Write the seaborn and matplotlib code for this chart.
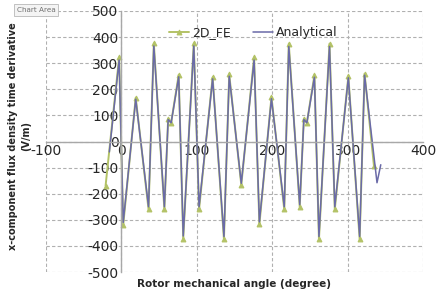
import matplotlib
matplotlib.use("Agg")
import matplotlib.pyplot as plt
import seaborn as sns
import pandas as pd

# ---- data ----
fe_x = [-21, -3, 2.4, 19, 36, 43, 57, 62, 66, 76, 82, 96, 103, 121, 136, 143,
        159, 176, 183, 199, 216, 222, 236.5, 242, 246, 256, 262, 276, 283, 301,
        316, 322.5, 335]
fe_y = [-170, 322, -320, 168, -260, 376, -260, 88, 72, 256, -372, 376, -260,
        246, -375, 257, -166, 322, -318, 170, -260, 375, -250, 88, 72, 254,
        -375, 375, -260, 250, -375, 260, -95]

an_x = [-16, -3, 2.4, 19, 36, 43, 57, 62, 66, 76, 82, 96, 103, 121, 136, 143,
        159, 176, 183, 199, 216, 222, 236.5, 242, 246, 256, 262, 276, 283, 301,
        316, 322.5, 339, 344]
an_y = [-40, 312, -310, 162, -250, 366, -250, 84, 72, 248, -362, 366, -250,
        240, -364, 250, -160, 312, -308, 164, -250, 364, -242, 84, 72, 246,
        -364, 364, -250, 244, -364, 254, -158, -89]

x_ticks = [-100, 0, 100, 200, 300, 400]
y_ticks = [-500, -400, -300, -200, -100, 0, 100, 200, 300, 400, 500]

series_names = ["2D_FE", "Analytical"]
fe_color = "#b3c266"
an_color = "#6a6aa8"

sns.set_style("white")
plt.rcParams["font.family"] = ["DejaVu Sans"]

fig = plt.figure(figsize=(4.42, 2.90), dpi=100)
ax = fig.add_axes([46 / 442, 1 - 272 / 290, 377 / 442, 261 / 290])

df_fe = pd.DataFrame({"x": fe_x, "y": fe_y})
df_an = pd.DataFrame({"x": an_x, "y": an_y})

sns.lineplot(data=df_fe, x="x", y="y", ax=ax, color=fe_color, lw=1.4,
             marker="^", markersize=3.5, markeredgecolor=fe_color,
             estimator=None, sort=False, label=series_names[0])
sns.lineplot(data=df_an, x="x", y="y", ax=ax, color=an_color, lw=1.1,
             estimator=None, sort=False, label=series_names[1])

ax.set_xlim(-100, 400)
ax.set_ylim(-500, 500)
ax.set_xticks(x_ticks)
ax.set_yticks(y_ticks)
ax.set_xticklabels([str(v) for v in x_ticks], fontsize=8.5)
ax.set_yticklabels([str(v) for v in y_ticks], fontsize=8.5)
ax.tick_params(length=0, pad=2)

ax.grid(True, linestyle=(0, (3, 2)), color="#b0b0b0", lw=0.8)
for s in ["top", "right"]:
    ax.spines[s].set_visible(False)
ax.spines["left"].set_position(("data", 0))
ax.spines["bottom"].set_position(("data", 0))
for s in ["left", "bottom"]:
    ax.spines[s].set_color("#a8a8a8")
    ax.spines[s].set_linewidth(1.0)

ax.set_xlabel("Rotor mechanical angle (degree)", fontsize=7.5, fontweight="bold")
ax.xaxis.set_label_coords(0.5, -0.025)
ax.set_ylabel("x-component flux density time derivative\n(V/m)",
              fontsize=7.0, fontweight="bold", multialignment="center",
              linespacing=1.35)
ax.yaxis.set_label_coords(-0.04, 0.52)

leg = ax.legend(loc="upper center", bbox_to_anchor=(0.55, 0.985), ncol=2,
                frameon=False, fontsize=9, handlelength=1.6,
                handletextpad=0.2, columnspacing=1.8)

fig.text(36 / 442, 1 - 10 / 290, "Chart Area", fontsize=5.2, color="#707070",
         ha="center", va="center",
         bbox=dict(boxstyle="square,pad=0.35", fc="#f4f4f4", ec="#b8b8b8", lw=0.6))

fig.savefig("out.png", dpi=100, facecolor="white")
